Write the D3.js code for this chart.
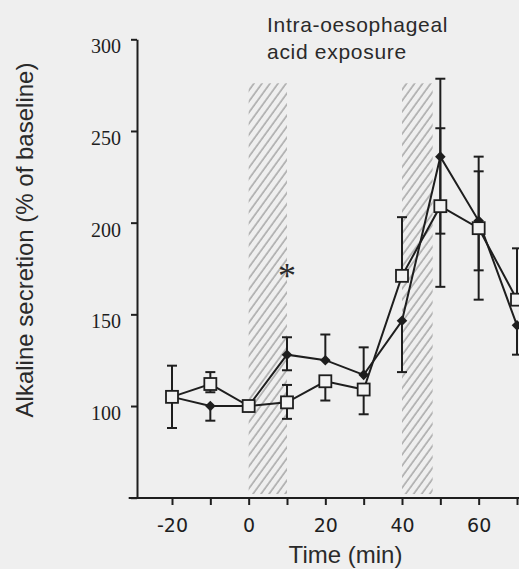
<!DOCTYPE html>
<html>
<head>
<meta charset="utf-8">
<script src="https://cdn.jsdelivr.net/npm/d3@7"></script>
<style>
  html, body { margin: 0; padding: 0; background: #efefef; }
  svg { display: block; }
  .axis path, .axis line { stroke: #1e1e1e; stroke-width: 2; }
  .series-line { fill: none; stroke: #1e1e1e; stroke-width: 2; }
  .errbar { stroke: #1e1e1e; stroke-width: 2; }
</style>
</head>
<body>
<svg id="chart" width="519" height="569"></svg>
<script>
"use strict";

/* ── Data ───────────────────────────────────────────────── */
const TIMES = [-20, -10, 0, 10, 20, 30, 40, 50, 60, 70];

// open squares
const OPEN_VALUES   = [105, 112, 100, 102, 113.5, 109, 171, 209, 197, 158];
const OPEN_ERR_UP   = [17, 6.5, 0, 9.5, 0, 0, 32, 42.5, 39, 28];
const OPEN_ERR_DOWN = [17, 4.5, 0, 9, 10.5, 13.5, 0, 44, 39, 0];

// filled diamonds
const FILLED_VALUES   = [105, 100, 100, 128, 125, 117, 146.5, 236, 201, 144];
const FILLED_ERR_UP   = [0, 0, 0, 9.5, 14, 15, 0, 42.5, 27, 0];
const FILLED_ERR_DOWN = [0, 8, 0, 8.5, 0, 0, 28, 42, 27, 16];

const ACID_PERIODS = [[0, 10], [40, 48]];
const ACID_TOP     = 276;

const Y_TICKS  = [50, 100, 150, 200, 250, 300];
const Y_LABELS = [100, 150, 200, 250, 300];
const X_TICKS  = [-20, -10, 0, 10, 20, 30, 40, 50, 60, 70];
const X_LABELS = [-20, 0, 20, 40, 60];

const TITLE_LINES = ["Intra-oesophageal", "acid exposure"];
const STAR_AT     = { t: 10, v: 173 };

(function () {
  const svg = d3.select("#chart");

  /* ── Scales ────────────────────────────────────────────── */
  const x = d3.scaleLinear().domain([-20, 70]).range([172, 517]);
  const y = d3.scaleLinear().domain([50, 300]).range([497.7, 39.3]);

  /* ── Hatch pattern for acid exposure ───────────────────── */
  const defs = svg.append("defs");
  defs.append("pattern")
      .attr("id", "hatch")
      .attr("patternUnits", "userSpaceOnUse")
      .attr("width", 6.5).attr("height", 10)
      .attr("patternTransform", "rotate(36)")
    .append("line")
      .attr("x1", 1).attr("y1", 0).attr("x2", 1).attr("y2", 10)
      .attr("stroke", "#707070")
      .attr("stroke-width", 0.9);

  svg.append("g").selectAll("rect")
    .data(ACID_PERIODS)
    .join("rect")
      .attr("x", (d) => x(d[0]))
      .attr("width", (d) => x(d[1]) - x(d[0]))
      .attr("y", y(ACID_TOP))
      .attr("height", y(52) - y(ACID_TOP))
      .attr("fill", "url(#hatch)");

  /* ── Axes ──────────────────────────────────────────────── */
  const yAxis = svg.append("g")
      .attr("class", "axis")
      .attr("transform", `translate(137,0)`)
      .call(d3.axisLeft(y).tickValues(Y_TICKS).tickSize(6).tickSizeOuter(0)
        .tickFormat((d) => (Y_LABELS.includes(d) ? d : "")));
  yAxis.selectAll("text")
      .attr("x", -16)
      .attr("dy", "0.68em")
      .attr("fill", "#1e1e1e")
      .style("font-family", "'Liberation Serif', 'Times New Roman', serif")
      .style("font-size", "20px");

  const xAxis = svg.append("g")
      .attr("class", "axis")
      .attr("transform", `translate(0,498)`)
      .call(d3.axisBottom(x).tickValues(X_TICKS).tickSize(7)
        .tickFormat((d) => (X_LABELS.includes(d) ? d : "")));
  xAxis.select(".domain").remove();
  xAxis.append("line")
      .attr("x1", x(-31.3)).attr("x2", x(72))
      .attr("y1", 0).attr("y2", 0);
  xAxis.selectAll("text")
      .attr("y", 34).attr("dy", 0)
      .attr("fill", "#1e1e1e")
      .style("font-family", "'DejaVu Sans', sans-serif")
      .style("font-size", "19px");

  /* ── Series lines ──────────────────────────────────────── */
  const line = d3.line().x((d) => x(d.t)).y((d) => y(d.v));
  const rows = (vals, up, down) =>
    TIMES.map((t, i) => ({ t, v: vals[i], up: up[i], down: down[i] }));
  const openRows   = rows(OPEN_VALUES, OPEN_ERR_UP, OPEN_ERR_DOWN);
  const filledRows = rows(FILLED_VALUES, FILLED_ERR_UP, FILLED_ERR_DOWN);

  svg.append("path").attr("class", "series-line").attr("d", line(filledRows));
  svg.append("path").attr("class", "series-line").attr("d", line(openRows));

  /* ── Error bars (one or both halves) ───────────────────── */
  const bars = [];
  [openRows, filledRows].forEach((rs) =>
    rs.forEach((d) => {
      if (d.up > 0)   bars.push({ t: d.t, from: d.v, to: d.v + d.up });
      if (d.down > 0) bars.push({ t: d.t, from: d.v, to: d.v - d.down });
    })
  );
  const eb = svg.append("g").selectAll("g").data(bars).join("g").attr("class", "errbar");
  eb.append("line")
      .attr("x1", (d) => x(d.t)).attr("x2", (d) => x(d.t))
      .attr("y1", (d) => y(d.from)).attr("y2", (d) => y(d.to));
  eb.append("line")
      .attr("x1", (d) => x(d.t) - 5).attr("x2", (d) => x(d.t) + 5)
      .attr("y1", (d) => y(d.to)).attr("y2", (d) => y(d.to));

  /* ── Markers ───────────────────────────────────────────── */
  svg.append("g").selectAll("path")
    .data(filledRows)
    .join("path")
      .attr("d", d3.symbol(d3.symbolSquare, 56))
      .attr("transform", (d) => `translate(${x(d.t)},${y(d.v)}) rotate(45)`)
      .attr("fill", "#1e1e1e");

  svg.append("g").selectAll("rect")
    .data(openRows)
    .join("rect")
      .attr("x", (d) => x(d.t) - 6).attr("y", (d) => y(d.v) - 6)
      .attr("width", 12).attr("height", 12)
      .attr("fill", "#f2f2f2")
      .attr("stroke", "#1e1e1e")
      .attr("stroke-width", 1.8);

  /* ── Significance star ─────────────────────────────────── */
  svg.append("text")
      .attr("x", x(STAR_AT.t)).attr("y", y(STAR_AT.v) + 16)
      .attr("text-anchor", "middle")
      .attr("fill", "#2a2a2a")
      .style("font-family", "'Liberation Serif', serif")
      .style("font-size", "36px")
      .text("*");

  /* ── Labels ────────────────────────────────────────────── */
  svg.append("text")
      .attr("x", 267)
      .style("font-family", "'Liberation Sans', Arial, sans-serif")
      .style("font-size", "21px")
      .style("letter-spacing", "0.7px")
      .attr("fill", "#2a2a2a")
    .selectAll("tspan")
    .data(TITLE_LINES)
    .join("tspan")
      .attr("x", 267)
      .attr("y", (d, i) => 32 + i * 26.5)
      .text((d) => d);

  svg.append("text")
      .attr("x", 345.5).attr("y", 563)
      .attr("text-anchor", "middle")
      .attr("fill", "#2a2a2a")
      .style("font-family", "'Liberation Sans', Arial, sans-serif")
      .style("font-size", "24px")
      .text("Time (min)");

  svg.append("text")
      .attr("transform", "translate(33,240) rotate(-90)")
      .attr("text-anchor", "middle")
      .attr("fill", "#2a2a2a")
      .style("font-family", "'Liberation Sans', Arial, sans-serif")
      .style("font-size", "24px")
      .text("Alkaline secretion (% of baseline)");
})();
</script>
</body>
</html>
